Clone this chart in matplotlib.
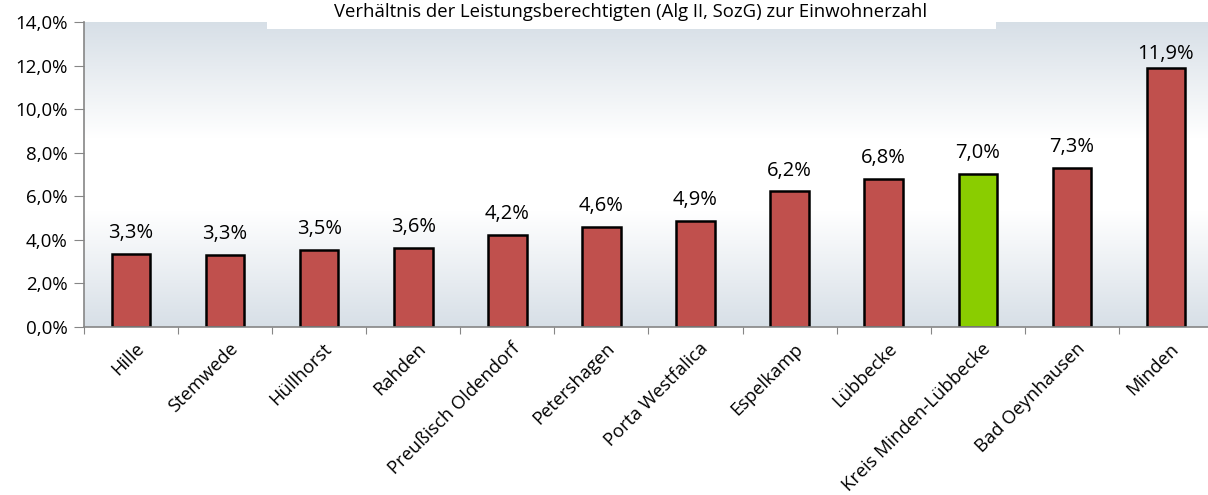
import numpy as np
import matplotlib
matplotlib.use("Agg")
import matplotlib.pyplot as plt
from matplotlib.colors import LinearSegmentedColormap
from matplotlib.patches import Rectangle

plt.rcParams['font.family'] = ['Open Sans', 'DejaVu Sans']

categories = ["Hille", "Stemwede", "Hüllhorst", "Rahden", "Preußisch Oldendorf",
              "Petershagen", "Porta Westfalica", "Espelkamp", "Lübbecke",
              "Kreis Minden-Lübbecke", "Bad Oeynhausen", "Minden"]
values = [3.34, 3.32, 3.54, 3.62, 4.22, 4.60, 4.85, 6.22, 6.78, 7.02, 7.30, 11.87]
labels = ["3,3%", "3,3%", "3,5%", "3,6%", "4,2%", "4,6%", "4,9%", "6,2%",
          "6,8%", "7,0%", "7,3%", "11,9%"]
highlight = "Kreis Minden-Lübbecke"
title = "Verhältnis der Leistungsberechtigten (Alg II, SozG) zur Einwohnerzahl"
yticks = [0, 2, 4, 6, 8, 10, 12, 14]

W, H = 1208, 495
fig = plt.figure(figsize=(W / 100, H / 100), dpi=100)
ax = fig.add_axes([84 / W, (H - 327) / H, 1129 / W, 305 / H])

# gradient background
gray = np.array([0.843, 0.875, 0.905])
white = np.array([1.0, 1.0, 1.0])
cmap = LinearSegmentedColormap.from_list(
    "bg", [(0.0, gray), (0.38, white), (0.62, white), (1.0, gray)])
grad = np.linspace(0, 1, 256).reshape(-1, 1)
ax.imshow(grad, aspect='auto', cmap=cmap, origin='lower',
          extent=[-0.5, len(categories) - 0.5, 0, 14], zorder=0)

x = np.arange(len(categories))
colors = ['#8ACD00' if c == highlight else '#C0504D' for c in categories]
ax.bar(x, values, width=0.41, color=colors, edgecolor='black', linewidth=1.8, zorder=2)

for xi, v, lab in zip(x, values, labels):
    y = min(v + 0.73, 12.3)
    ax.text(xi, y, lab, ha='center', va='baseline', fontsize=14.5, zorder=3)

ax.set_xlim(-0.5, len(categories) - 0.5)
ax.set_ylim(0, 14)
ax.set_yticks(yticks)
ax.set_yticklabels([f"{t:.1f}".replace('.', ',') + "%" for t in yticks], fontsize=13.5)
ax.set_xticks(np.arange(len(categories) + 1) - 0.5, minor=False)
ax.set_xticklabels([])
ax.set_xticks(x + 0.04, minor=True)
ax.set_xticklabels(categories, minor=True, rotation=45, ha='right',
                   rotation_mode='anchor', fontsize=13.2)
ax.tick_params(axis='x', which='minor', length=0, pad=9)
ax.tick_params(axis='x', which='major', length=5, color='#868686', direction='out')
ax.tick_params(axis='y', length=7, color='#868686', direction='out', pad=5)

for s in ['top', 'right']:
    ax.spines[s].set_visible(False)
ax.spines['left'].set_color('#868686')
ax.spines['bottom'].set_color('#868686')
ax.spines['left'].set_linewidth(1.2)
ax.spines['bottom'].set_linewidth(1.2)

# title box overlapping plot area
fig.patches.append(Rectangle((267 / W, (H - 29) / H), (996 - 267) / W, 29 / H,
                             transform=fig.transFigure, facecolor='white',
                             edgecolor='none', zorder=5))
fig.text(631 / W, (H - 12) / H, title, ha='center', va='center', fontsize=13.3, zorder=6)

fig.savefig("out.png", dpi=100)
